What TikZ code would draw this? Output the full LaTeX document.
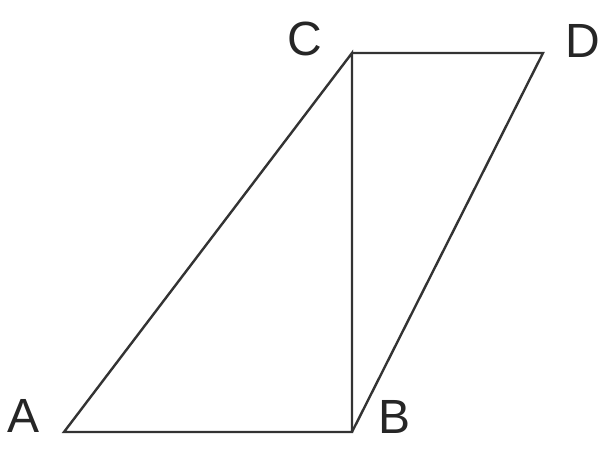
\documentclass[tikz,border=0pt]{standalone}
\usepackage{fontspec}
\setmainfont{Liberation Sans}
\begin{document}
\begin{tikzpicture}[x=1pt,y=-1pt,
  edge/.style={draw=black!80,line width=2.4pt,line join=miter},
  lbl/.style={font=\fontsize{48}{48}\selectfont,text=black!85,inner sep=0pt}]
\useasboundingbox[fill=white] (0,0) rectangle (606,460);
\coordinate (A) at (64,432);
\coordinate (B) at (352,432);
\coordinate (C) at (352,53);
\coordinate (D) at (543,53);
\draw[edge] (A) -- (B) -- (C) -- cycle;
\draw[edge] (C) -- (D) -- (B);
\node[lbl] (la) at (24,416) {A};
\node[lbl] (lb) at (395,417) {B};
\node[lbl] (lc) at (305,39) {C};
\node[lbl] (ld) at (583,41) {D};
\end{tikzpicture}
\end{document}
